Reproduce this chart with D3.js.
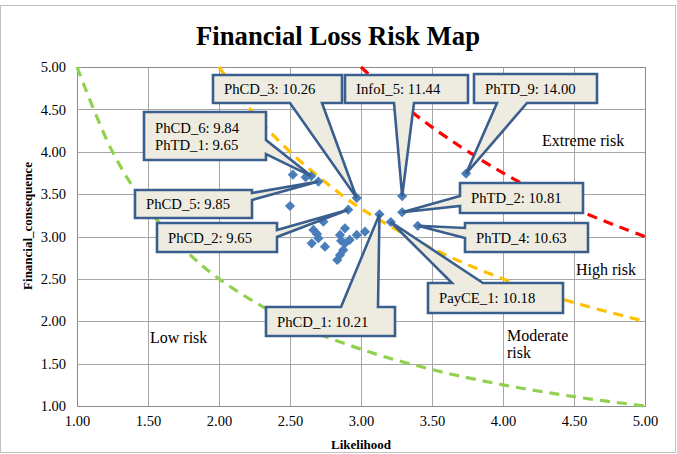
<!DOCTYPE html>
<html>
<head>
<meta charset="utf-8">
<script src="https://cdn.jsdelivr.net/npm/d3@7"></script>
<style>
  html, body { margin: 0; padding: 0; background: #fff; }
  svg { display: block; }
  text { font-family: "Liberation Serif", "Times New Roman", serif; fill: #000; }
</style>
</head>
<body>
<svg id="chart" width="677" height="454"></svg>
<script>
// ---------- DATA ----------
const pointNames = ["PhCD_3", "InfoI_5", "PhTD_9", "PhCD_6", "PhTD_1", "PhCD_5", "PhCD_2", "PhCD_1", "PayCE_1", "PhTD_2", "PhTD_4",
  "", "", "", "", "", "", "", "", "", "", "", "", "", "", "", "", "", ""];
const likelihood = [2.97, 3.29, 3.74, 2.65, 2.61, 2.70, 2.91, 3.13, 3.21, 3.29, 3.40,
  2.52, 2.50, 2.735, 2.665, 2.70, 2.653, 2.746, 2.887, 2.852, 2.887, 2.97, 3.028, 2.852, 2.833, 2.875, 2.92, 2.69, 2.86];
const consequence = [3.455, 3.477, 3.743, 3.713, 3.70, 3.648, 3.316, 3.262, 3.171, 3.286, 3.126,
  3.73, 3.36, 3.175, 3.077, 2.98, 2.92, 2.88, 3.097, 3.018, 2.92, 3.018, 3.057, 2.782, 2.723, 2.84, 2.96, 3.03, 2.95];

const calloutTexts = [
  ["PhCD_3: 10.26"], ["InfoI_5: 11.44"], ["PhTD_9: 14.00"], ["PhCD_6: 9.84", "PhTD_1: 9.65"],
  ["PhCD_5: 9.85"], ["PhCD_2: 9.65"], ["PhCD_1: 10.21"], ["PayCE_1: 10.18"], ["PhTD_2: 10.81"], ["PhTD_4: 10.63"]
];
const calloutTargets = ["PhCD_3", "InfoI_5", "PhTD_9", "PhCD_6", "PhCD_5", "PhCD_2", "PhCD_1", "PayCE_1", "PhTD_2", "PhTD_4"];

// iso-risk boundary curves
const lowX = [1, 1.25, 1.5, 1.75, 2, 2.5, 3, 3.5, 4, 4.5, 5];
const lowY = [5.00, 4.00, 3.33, 2.86, 2.50, 2.00, 1.67, 1.43, 1.25, 1.11, 1.00];
const modX = [2, 2.25, 2.5, 2.75, 3, 3.5, 4, 4.5, 5];
const modY = [5.00, 4.44, 4.00, 3.64, 3.33, 2.86, 2.50, 2.22, 2.00];
const highX = [3, 3.25, 3.5, 4, 4.5, 5];
const highY = [5.00, 4.62, 4.29, 3.75, 3.33, 3.00];

const xTicks = [1.0, 1.5, 2.0, 2.5, 3.0, 3.5, 4.0, 4.5, 5.0];
const yTicks = [1.0, 1.5, 2.0, 2.5, 3.0, 3.5, 4.0, 4.5, 5.0];

const regionLabels = ["Low risk", "Moderate", "risk", "High risk", "Extreme risk"];

// ---------- LAYOUT ----------
const svg = d3.select("#chart");
const W = 677, H = 454;
const plot = { left: 77, right: 645, top: 67, bottom: 406 };

const x = d3.scaleLinear().domain([1, 5]).range([plot.left, plot.right]);
const y = d3.scaleLinear().domain([1, 5]).range([plot.bottom, plot.top]);

// outer chart border
svg.append("rect").attr("x", 0.5).attr("y", 5.5).attr("width", W - 2).attr("height", H - 7)
  .attr("fill", "#fff").attr("stroke", "#c0c0c0").attr("stroke-width", 1);

// title
svg.append("text").attr("x", 338).attr("y", 45).attr("text-anchor", "middle")
  .style("font-size", "26.7px").style("font-weight", "bold").text("Financial Loss Risk Map");

// grid
const grid = svg.append("g");
grid.selectAll("line.v").data(xTicks).join("line")
  .attr("x1", d => Math.round(x(d)) + 0.5).attr("x2", d => Math.round(x(d)) + 0.5)
  .attr("y1", plot.top).attr("y2", plot.bottom)
  .attr("stroke", "#a6a6a6").attr("stroke-width", 1);
grid.selectAll("line.h").data(yTicks).join("line")
  .attr("y1", d => Math.round(y(d)) + 0.5).attr("y2", d => Math.round(y(d)) + 0.5)
  .attr("x1", plot.left).attr("x2", plot.right)
  .attr("stroke", "#a6a6a6").attr("stroke-width", 1);
svg.append("rect").attr("x", plot.left + 0.5).attr("y", plot.top + 0.5)
  .attr("width", plot.right - plot.left).attr("height", plot.bottom - plot.top)
  .attr("fill", "none").attr("stroke", "#8c8c8c");

// axes (labels only; lines provided by grid)
const xAxis = d3.axisBottom(x).tickValues(xTicks).tickFormat(d3.format(".2f")).tickSize(0).tickPadding(10);
const gx = svg.append("g").attr("transform", `translate(0,${plot.bottom})`).call(xAxis);
gx.select(".domain").remove();
gx.selectAll("text").style("font-size", "14.5px").style("font-family", '"Liberation Serif", "Times New Roman", serif').attr("fill", "#000");

const yAxis = d3.axisLeft(y).tickValues(yTicks).tickFormat(d3.format(".2f")).tickSize(0).tickPadding(11);
const gy = svg.append("g").attr("transform", `translate(${plot.left},0)`).call(yAxis);
gy.select(".domain").remove();
gy.selectAll("text").style("font-size", "14.5px").style("font-family", '"Liberation Serif", "Times New Roman", serif').attr("fill", "#000");

// axis titles
svg.append("text").attr("x", x(3)).attr("y", 449).attr("text-anchor", "middle")
  .style("font-size", "13px").style("font-weight", "bold").text("Likelihood");
svg.append("text").attr("transform", "translate(32,226) rotate(-90)").attr("text-anchor", "middle")
  .style("font-size", "13px").style("font-weight", "bold").text("Financial_consequence");

// risk boundary curves
const line = d3.line().x(d => x(d[0])).y(d => y(d[1])).curve(d3.curveCatmullRom);
const curves = [
  { xs: lowX, ys: lowY, color: "#92D050" },
  { xs: modX, ys: modY, color: "#FFC000" },
  { xs: highX, ys: highY, color: "#FF0000" }
];
svg.append("g").selectAll("path").data(curves).join("path")
  .attr("d", c => line(c.xs.map((v, i) => [v, c.ys[i]])))
  .attr("fill", "none").attr("stroke", c => c.color)
  .attr("stroke-width", 3.2).attr("stroke-dasharray", "10,7");

// points
const pts = likelihood.map((v, i) => ({ name: pointNames[i], lx: v, cy: consequence[i] }));
const sym = d3.symbol().type(d3.symbolSquare).size(52);
svg.append("g").selectAll("path").data(pts).join("path")
  .attr("transform", d => `translate(${x(d.lx)},${y(d.cy)}) rotate(45)`)
  .attr("d", sym).attr("fill", "#4A7EBB");

// region labels
const regionPos = [[150, 343], [507, 341], [507, 358], [576, 275], [542, 146]];
svg.append("g").selectAll("text").data(regionLabels).join("text")
  .attr("x", (d, i) => regionPos[i][0]).attr("y", (d, i) => regionPos[i][1])
  .style("font-size", "16px").text(d => d);

// callouts (box in pixels, wedge side and base along that side)
const calloutLayout = [
  { box: [213, 75, 342, 103], side: "bottom", base: [290, 322] },
  { box: [345, 75, 468, 103], side: "bottom", base: [394, 414] },
  { box: [474, 74, 597, 103], side: "bottom", base: [497, 527] },
  { box: [144, 112, 266, 160], side: "right", base: [140, 154] },
  { box: [135, 190, 252, 218], side: "right", base: [193, 200] },
  { box: [157, 223, 277, 252], side: "right", base: [230, 237] },
  { box: [266, 307, 395, 336], side: "top", base: [341, 378] },
  { box: [428, 283, 563, 313], side: "top", base: [452, 483] },
  { box: [460, 183, 583, 213], side: "left", base: [196, 206] },
  { box: [465, 223, 588, 252], side: "left", base: [228, 238] }
];

function calloutPath(L, tx, ty) {
  const [x0, y0, x1, y1] = L.box, [a, b] = L.base;
  const p = d3.path();
  if (L.side === "bottom") {
    p.moveTo(x0, y0); p.lineTo(x1, y0); p.lineTo(x1, y1); p.lineTo(b, y1); p.lineTo(tx, ty); p.lineTo(a, y1); p.lineTo(x0, y1);
  } else if (L.side === "top") {
    p.moveTo(x0, y0); p.lineTo(a, y0); p.lineTo(tx, ty); p.lineTo(b, y0); p.lineTo(x1, y0); p.lineTo(x1, y1); p.lineTo(x0, y1);
  } else if (L.side === "right") {
    p.moveTo(x0, y0); p.lineTo(x1, y0); p.lineTo(x1, a); p.lineTo(tx, ty); p.lineTo(x1, b); p.lineTo(x1, y1); p.lineTo(x0, y1);
  } else {
    p.moveTo(x0, y0); p.lineTo(x1, y0); p.lineTo(x1, y1); p.lineTo(x0, y1); p.lineTo(x0, b); p.lineTo(tx, ty); p.lineTo(x0, a);
  }
  p.closePath();
  return p.toString();
}

const cg = svg.append("g");
calloutTexts.forEach((lines, i) => {
  const L = calloutLayout[i];
  const t = pts.find(p => p.name === calloutTargets[i]);
  const g = cg.append("g");
  g.append("path").attr("d", calloutPath(L, x(t.lx), y(t.cy)))
    .attr("fill", "#EEECE1").attr("stroke", "#3A5F8E").attr("stroke-width", 2.6).attr("stroke-linejoin", "miter");
  const [x0, y0, x1, y1] = L.box;
  const cy = (y0 + y1) / 2, lh = 17;
  g.selectAll("text").data(lines).join("text")
    .attr("x", x0 + 11)
    .attr("y", (d, k) => cy + (k - (lines.length - 1) / 2) * lh)
    .attr("dy", "0.35em")
    .style("font-size", "14.7px").text(d => d);
});
</script>
</body>
</html>
